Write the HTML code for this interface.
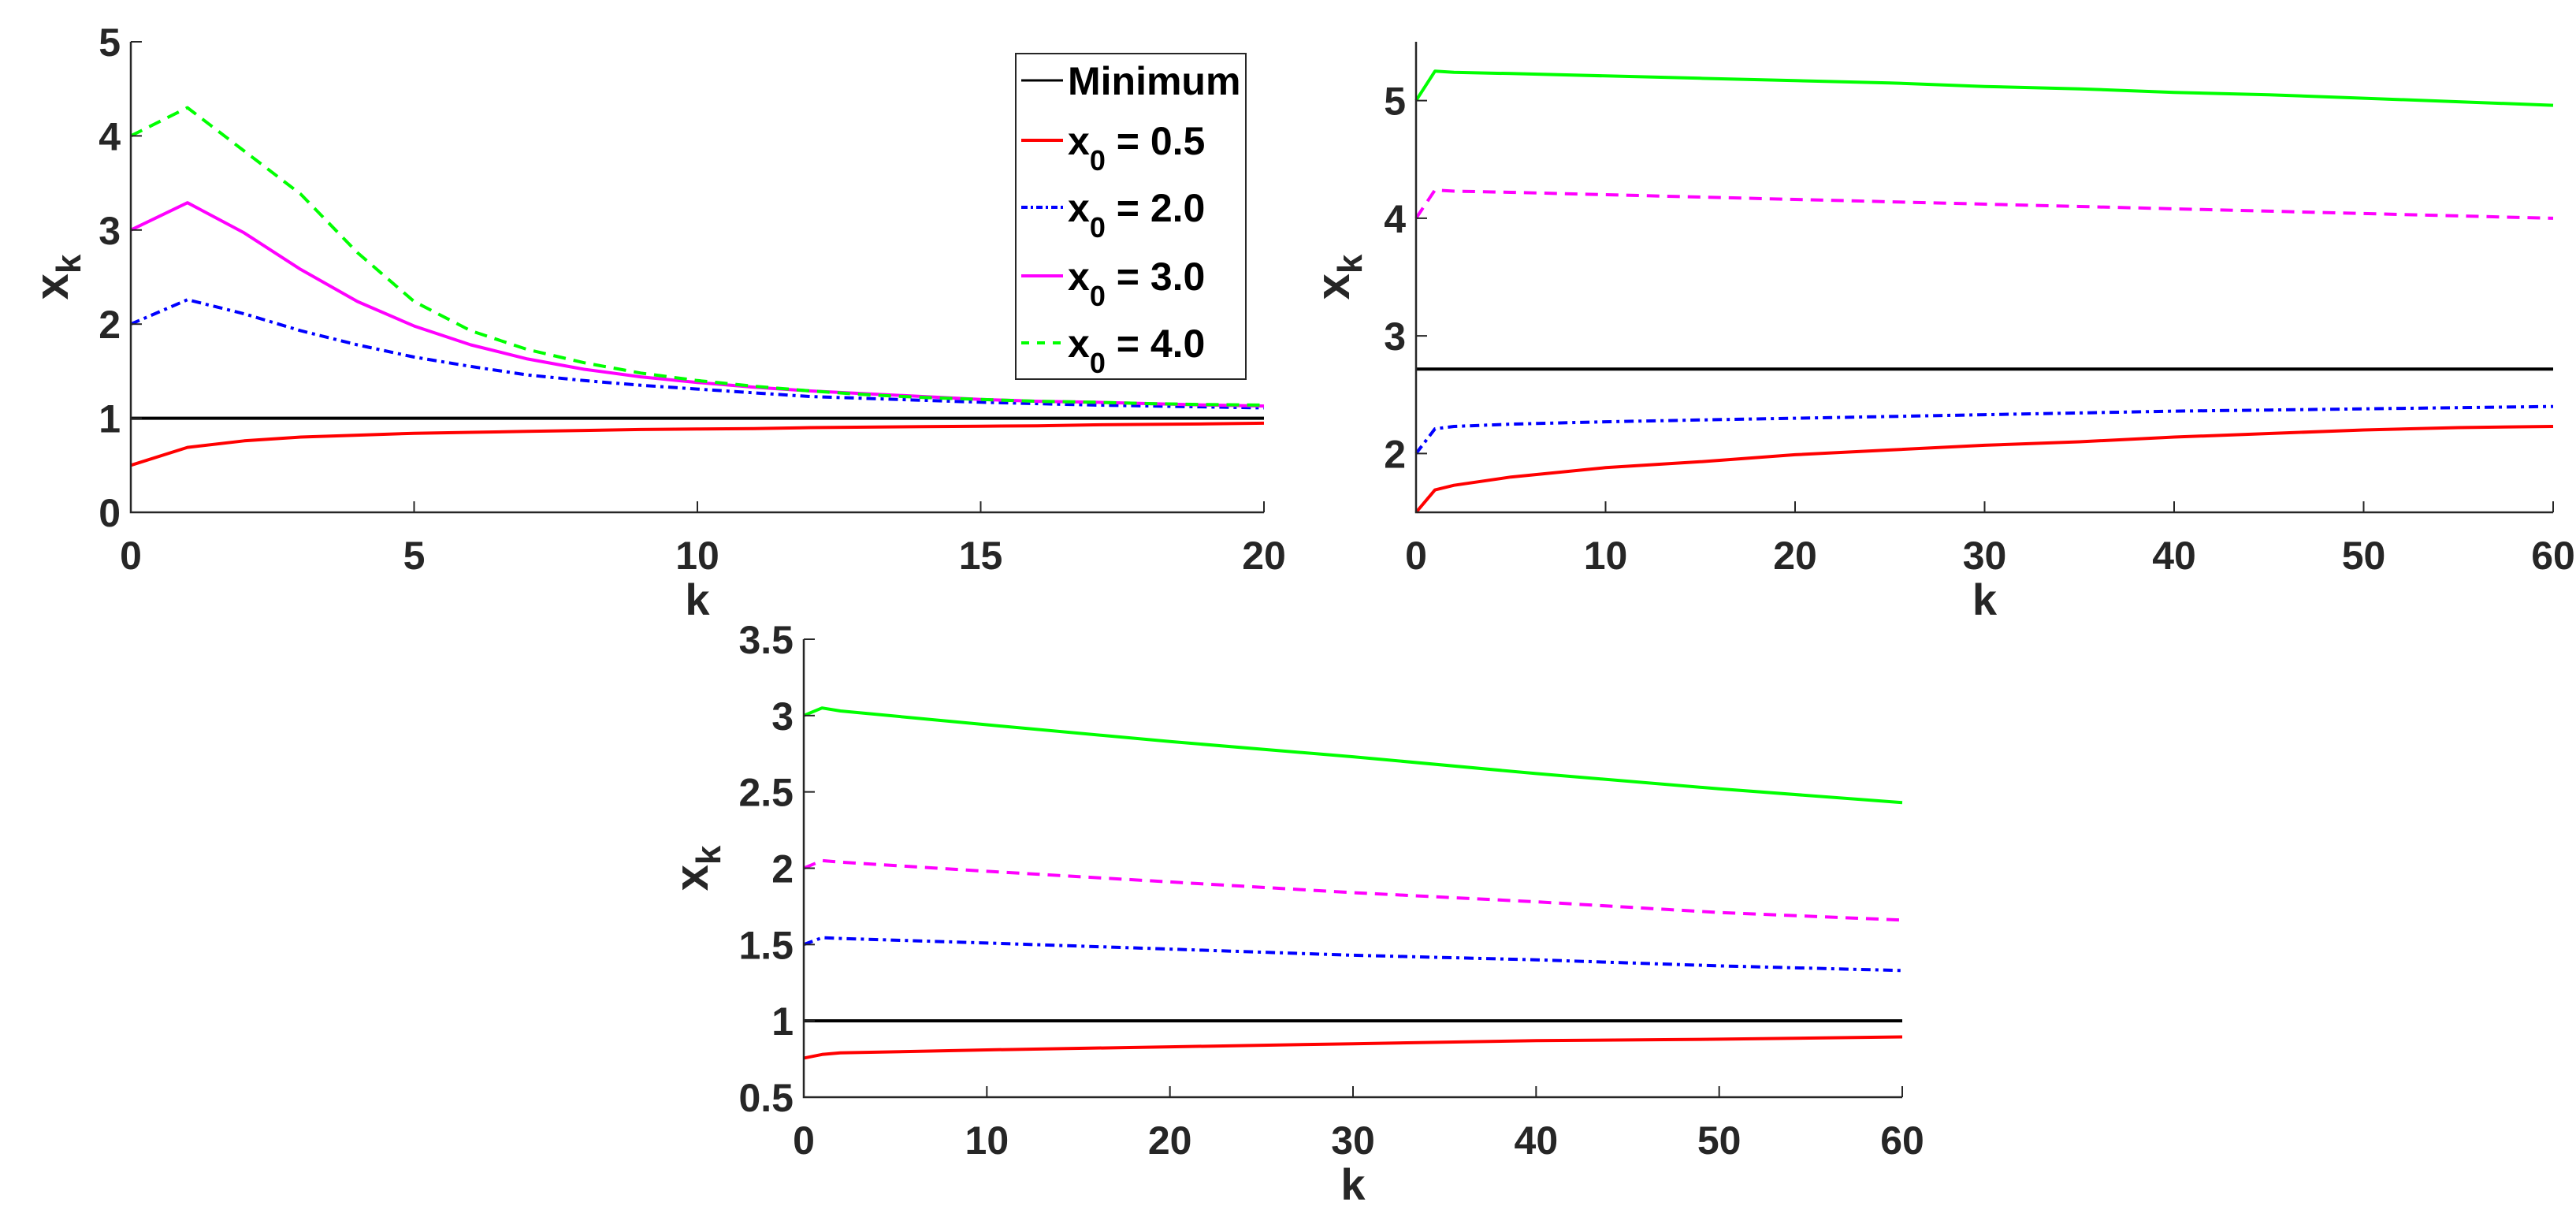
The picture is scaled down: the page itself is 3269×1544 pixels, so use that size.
<!DOCTYPE html>
<html><head><meta charset="utf-8">
<style>
html,body{margin:0;padding:0;background:#fff;}
svg{display:block;font-family:"Liberation Sans",Arial,sans-serif;font-weight:bold;}
</style></head>
<body>
<svg id="fig" width="3269" height="1544" viewBox="0 0 3269 1544" xmlns="http://www.w3.org/2000/svg"></svg>
<script>
// ---- Panel 1 data ----
const k1 = [0,1,2,3,4,5,6,7,8,9,10,11,12,13,14,15,16,17,18,19,20];
const p1Red = [0.5,0.69,0.76,0.80,0.82,0.84,0.85,0.86,0.87,0.88,0.885,0.89,0.90,0.905,0.91,0.915,0.92,0.93,0.935,0.94,0.947];
const p1Blue = [2.0,2.26,2.11,1.93,1.78,1.65,1.55,1.46,1.40,1.35,1.31,1.27,1.23,1.21,1.19,1.17,1.155,1.14,1.13,1.12,1.11];
const p1Magenta = [3.0,3.29,2.97,2.58,2.24,1.98,1.78,1.63,1.52,1.44,1.38,1.33,1.29,1.26,1.23,1.20,1.18,1.17,1.155,1.14,1.13];
const p1Green = [4.0,4.30,3.84,3.38,2.76,2.24,1.93,1.73,1.59,1.48,1.40,1.34,1.29,1.25,1.22,1.20,1.18,1.17,1.155,1.145,1.14];
const p1Min = 1.0;
const p1XTicks = [0,5,10,15,20];
const p1YTicks = [0,1,2,3,4,5];
// ---- Panel 2 data ----
const k2 = [0,1,2,5,10,15,20,25,30,35,40,45,50,55,60];
const p2Red = [1.5,1.69,1.73,1.80,1.88,1.93,1.99,2.03,2.07,2.10,2.14,2.17,2.20,2.22,2.23];
const p2Blue = [2.0,2.21,2.23,2.25,2.27,2.285,2.30,2.315,2.33,2.345,2.36,2.37,2.38,2.39,2.40];
const p2Magenta = [4.0,4.24,4.23,4.22,4.20,4.18,4.16,4.14,4.12,4.10,4.08,4.06,4.04,4.02,4.0];
const p2Green = [5.0,5.25,5.24,5.23,5.21,5.19,5.17,5.15,5.12,5.10,5.07,5.05,5.02,4.99,4.96];
const p2Min = 2.718;
const p2XTicks = [0,10,20,30,40,50,60];
const p2YTicks = [2,3,4,5];
// ---- Panel 3 data ----
const k3 = [0,1,2,10,20,30,40,50,60];
const p3Red = [0.756,0.78,0.79,0.81,0.83,0.85,0.87,0.88,0.895];
const p3Blue = [1.5,1.545,1.54,1.51,1.47,1.43,1.40,1.36,1.33];
const p3Magenta = [2.0,2.05,2.04,1.98,1.91,1.84,1.78,1.71,1.66];
const p3Green = [3.0,3.05,3.03,2.94,2.83,2.73,2.62,2.52,2.43];
const p3Min = 1.0;
const p3XTicks = [0,10,20,30,40,50,60];
const p3YTicks = [0.5,1,1.5,2,2.5,3,3.5];

const NS = "http://www.w3.org/2000/svg";
const svg = document.getElementById('fig');
function mk(tag, attrs, parent){
  const e = document.createElementNS(NS, tag);
  for (const a in attrs) e.setAttribute(a, attrs[a]);
  (parent||svg).appendChild(e);
  return e;
}
const DASH = {solid:null, dashed:"16,10", dashdot:"12,6,4,6"};
const COL = {red:"#ff0000", blue:"#0000ff", magenta:"#ff00ff", green:"#00ff00", black:"#000000"};

function panel(id, box, xdom, ydom, xt, yt, ks, series, minVal, ylabX){
  const g = mk('g', {});
  
  
  const sx = v => box.x0 + (v - xdom[0]) / (xdom[1]-xdom[0]) * (box.x1-box.x0);
  const sy = v => box.y1 - (v - ydom[0]) / (ydom[1]-ydom[0]) * (box.y1-box.y0);
  const ml = mk('line', {x1:box.x0, x2:box.x1, y1:sy(minVal), y2:sy(minVal), stroke:"#000", 'stroke-width':4}, g);
  
  
  series.forEach(s => {
    const pts = ks.map((k,i)=> sx(k).toFixed(1)+','+sy(s.vals[i]).toFixed(1)).join(' ');
    const pl = mk('polyline', {points:pts, fill:'none', stroke:COL[s.color], 'stroke-width':4, 'stroke-linejoin':'round'}, g);
    if (DASH[s.style]) pl.setAttribute('stroke-dasharray', DASH[s.style]);
    
    
  });
  const ax = mk('path', {d:`M${box.x0},${box.y0} L${box.x0},${box.y1} L${box.x1},${box.y1}`, fill:'none', stroke:'#262626', 'stroke-width':2.5}, g);
  
  
  xt.forEach(v => {
    const x = sx(v);
    mk('line', {x1:x,x2:x,y1:box.y1,y2:box.y1-14,stroke:'#262626','stroke-width':2}, g);
    const t = mk('text', {x:x, y:box.y1+72, 'text-anchor':'middle', 'font-size':50, fill:'#262626'}, g);
    t.textContent = v;
    
    
  });
  yt.forEach(v => {
    const y = sy(v);
    mk('line', {x1:box.x0,x2:box.x0+14,y1:y,y2:y,stroke:'#262626','stroke-width':2}, g);
    const t = mk('text', {x:box.x0-13, y:y+18, 'text-anchor':'end', 'font-size':50, fill:'#262626'}, g);
    t.textContent = v;
    
    
  });
  const xl = mk('text', {x:(box.x0+box.x1)/2, y:box.y1+130, 'text-anchor':'middle', 'font-size':56, fill:'#262626'}, g);
  xl.textContent = 'k';
  
  
  const cy = (box.y0+box.y1)/2;
  const yl = mk('text', {x:0, y:0, 'text-anchor':'middle', 'font-size':60, fill:'#262626', transform:`translate(${ylabX},${cy}) rotate(-90)`}, g);
  yl.innerHTML = 'x<tspan font-size="44" dy="16">k</tspan>';
  
  
}

panel('panel-1', {x0:166,x1:1604,y0:53,y1:650}, [0,20], [0,5], p1XTicks, p1YTicks, k1, [
  {name:'x0-0.5', vals:p1Red, color:'red', style:'solid'},
  {name:'x0-2.0', vals:p1Blue, color:'blue', style:'dashdot'},
  {name:'x0-3.0', vals:p1Magenta, color:'magenta', style:'solid'},
  {name:'x0-4.0', vals:p1Green, color:'green', style:'dashed'}
], p1Min, 86);

panel('panel-2', {x0:1797,x1:3240,y0:53,y1:650}, [0,60], [1.5,5.5], p2XTicks, p2YTicks, k2, [
  {name:'red', vals:p2Red, color:'red', style:'solid'},
  {name:'blue', vals:p2Blue, color:'blue', style:'dashdot'},
  {name:'magenta', vals:p2Magenta, color:'magenta', style:'dashed'},
  {name:'green', vals:p2Green, color:'green', style:'solid'}
], p2Min, 1712);

panel('panel-3', {x0:1020,x1:2414,y0:811,y1:1392}, [0,60], [0.5,3.5], p3XTicks, p3YTicks, k3, [
  {name:'red', vals:p3Red, color:'red', style:'solid'},
  {name:'blue', vals:p3Blue, color:'blue', style:'dashdot'},
  {name:'magenta', vals:p3Magenta, color:'magenta', style:'dashed'},
  {name:'green', vals:p3Green, color:'green', style:'solid'}
], p3Min, 898);

const lg = mk('g', {});


mk('rect', {x:1289, y:68, width:292, height:413, fill:'#fff', stroke:'#262626', 'stroke-width':2}, lg);
const entries = [
  {label:'Minimum', color:'black', style:'solid', y:102},
  {label:'0.5', color:'red', style:'solid', y:178},
  {label:'2.0', color:'blue', style:'dashdot', y:263},
  {label:'3.0', color:'magenta', style:'solid', y:350},
  {label:'4.0', color:'green', style:'dashed', y:435}
];
entries.forEach(en => {
  const l = mk('line', {x1:1296, x2:1349, y1:en.y, y2:en.y, stroke:COL[en.color], 'stroke-width':en.color==='black'?3:4}, lg);
  if (DASH[en.style]) l.setAttribute('stroke-dasharray', en.style==='dashed'?'10,10':'8,4,3,4');
  
  
  const t = mk('text', {x:1355, y:en.y+18, 'font-size':50, fill:'#000'}, lg);
  if (en.label === 'Minimum') t.textContent = 'Minimum';
  else t.innerHTML = 'x<tspan font-size="36" dy="20">0</tspan><tspan dy="-20"> = ' + en.label + '</tspan>';
  
  
});
</script>
</body></html>
